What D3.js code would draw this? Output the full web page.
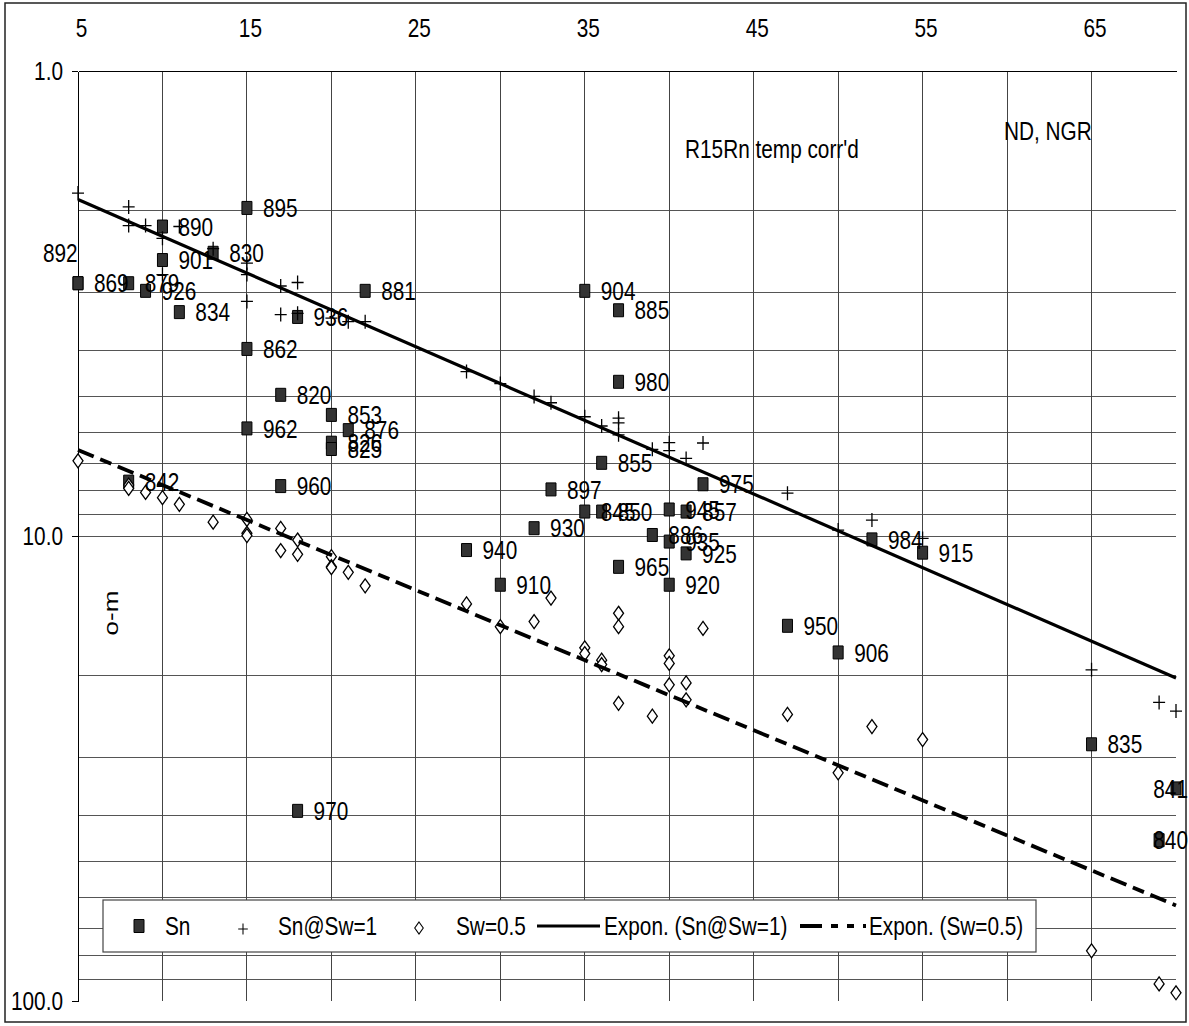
<!DOCTYPE html>
<html>
<head>
<meta charset="utf-8">
<script src="https://cdn.jsdelivr.net/npm/d3@7"></script>
<style>
  html, body { margin: 0; padding: 0; background: #fff; }
  svg { display: block; font-family: "Liberation Sans", Arial, sans-serif; }
</style>
</head>
<body>
<svg id="chart" width="1189" height="1026"></svg>
<script>
// Sn points (labelled squares)
const snX = [5, 5, 8, 9, 10, 10, 11, 13, 15, 15, 15, 17, 17, 18, 18, 20, 20, 20, 21, 22, 8,
    28, 30, 32, 33, 35, 35, 36, 36, 37, 37, 37, 39, 40, 40, 40, 41, 41, 42, 47, 50, 52, 55, 65, 69, 70];
const snY = [2.86, 2.86, 2.86, 2.97, 2.55, 2.16, 3.30, 2.46, 1.97, 3.96, 5.87, 4.97, 7.81, 3.38, 39.0, 5.49, 6.3, 6.5, 5.92, 2.97, 7.64,
    10.72, 12.73, 9.62, 7.94, 2.97, 8.86, 6.96, 8.86, 3.27, 4.66, 11.65, 9.95, 8.77, 10.28, 12.73, 8.86, 10.9, 7.74, 15.6, 17.8, 10.17, 10.86, 28.05, 45.1, 34.9];
const snLabel = ['892', '869', '879', '926', '901', '890', '834', '830', '895', '862', '962', '820', '960', '936', '970', '853', '826', '825', '876', '881', '842',
    '940', '910', '930', '897', '904', '845', '855', '850', '885', '980', '965', '886', '945', '935', '920', '857', '925', '975', '950', '906', '984', '915', '835', '840', '841'];

// Sn@Sw=1 (plus)
const sw1X = [5, 8, 8, 9, 10, 10, 11, 13, 15, 15, 15, 17, 17, 18, 18, 20, 21, 22, 28, 30, 32, 33, 35, 36, 37, 37, 37,
    39, 40, 40, 41, 42, 47, 50, 52, 55, 65, 69, 70];
const sw1Y = [1.83, 1.96, 2.15, 2.15, 2.29, 2.74, 2.16, 2.41, 2.59, 2.74, 3.13, 2.90, 3.34, 2.85, 3.32, 3.40, 3.46, 3.46, 4.43, 4.70, 5.01, 5.17, 5.54, 5.80, 5.58, 5.71, 6.06,
    6.51, 6.30, 6.55, 6.81, 6.31, 8.09, 9.71, 9.24, 10.12, 19.4, 22.8, 23.8];

// Sw=0.5 (diamond)
const sw05X = [5, 8, 8, 9, 10, 11, 13, 15, 15, 15, 17, 17, 18, 18, 20, 20, 20, 21, 22, 28, 30, 32, 33, 35, 35, 36, 36,
    37, 37, 37, 39, 40, 40, 40, 41, 41, 42, 47, 50, 52, 55, 65, 69, 70];
const sw05Y = [6.89, 7.77, 7.90, 8.06, 8.27, 8.55, 9.34, 9.21, 9.87, 9.98, 9.63, 10.75, 10.2, 10.95, 11.08, 11.64, 11.7, 11.97, 12.8, 14.0, 15.67, 15.28, 13.6, 17.4, 17.9, 18.5, 18.9,
    14.66, 15.67, 22.9, 24.4, 18.1, 18.8, 20.9, 20.7, 22.5, 15.8, 24.2, 32.3, 25.7, 27.4, 78.0, 91.9, 96.0];

// exponential trend lines, end values
const trendX = [5, 70];
const trendSw1 = [1.89, 20.2];
const trendSw05 = [6.53, 62.3];

const xTicks = [5, 15, 25, 35, 45, 55, 65];
const xGrid = [10, 15, 20, 25, 30, 35, 40, 45, 50, 55, 60, 65];
const yTicks = [1, 10, 100];
const yGrid = [2, 3, 4, 5, 6, 7, 8, 9, 10, 20, 30, 40, 50, 60, 70, 80, 90];
const seriesNames = ['Sn', 'Sn@Sw=1', 'Sw=0.5', 'Expon. (Sn@Sw=1)', 'Expon. (Sw=0.5)'];

const SX = 0.8;          // text in the original is narrow
const FS = 26;
const squeeze = `scale(${SX},1)`;

const svg = d3.select('#chart');

const x = d3.scaleLinear().domain([5, 70]).range([78, 1176]);
const y = d3.scaleLog().domain([1, 100]).range([71, 1001]);

// outer frame
svg.append('rect')
    .attr('x', 5).attr('y', 3).attr('width', 1181).attr('height', 1019)
    .attr('fill', '#fff').attr('stroke', '#222').attr('stroke-width', 1.5);

// grid
const grid = svg.append('g').attr('shape-rendering', 'crispEdges');
grid.selectAll('.hg').data(yGrid).enter().append('line')
    .attr('x1', x(5)).attr('x2', x(70))
    .attr('y1', d => y(d)).attr('y2', d => y(d))
    .attr('stroke', '#555');
grid.selectAll('.vg').data(xGrid).enter().append('line')
    .attr('x1', d => x(d)).attr('x2', d => x(d))
    .attr('y1', y(1)).attr('y2', y(100))
    .attr('stroke', '#444');

// axes
const xAxis = svg.append('g')
    .attr('transform', `translate(0,${y(1)})`)
    .call(d3.axisTop(x).tickValues(xTicks).tickSize(0).tickPadding(34));
xAxis.select('.domain').attr('stroke', '#000').attr('shape-rendering', 'crispEdges');
xAxis.selectAll('text')
    .attr('font-size', FS).attr('font-family', 'Liberation Sans, Arial, sans-serif')
    .attr('fill', '#000').attr('x', 3 / SX).attr('transform', squeeze);

const yAxis = svg.append('g')
    .attr('transform', `translate(${x(5)},0)`)
    .call(d3.axisLeft(y).tickValues(yTicks).tickFormat(d3.format('.1f')).tickSize(6).tickSizeOuter(0));
yAxis.select('.domain').attr('stroke', '#000').attr('shape-rendering', 'crispEdges');
yAxis.selectAll('line').attr('stroke', '#000');
yAxis.selectAll('text')
    .attr('font-size', FS).attr('font-family', 'Liberation Sans, Arial, sans-serif')
    .attr('fill', '#000').attr('x', -15 / SX).attr('transform', squeeze);

// markers
const squarePath = 'M-5,-6.5H5V6.5H-5Z';
const plusPath = 'M-6,0H6M0,-7V7';
const diamondPath = 'M0,-7L5,0L0,7L-5,0Z';

const snIdx = d3.range(snX.length);
svg.append('g').selectAll('path').data(snIdx).enter().append('path')
    .attr('d', squarePath)
    .attr('transform', i => `translate(${x(snX[i])},${y(snY[i])})`)
    .attr('fill', '#333').attr('stroke', '#000').attr('stroke-width', 1);

svg.append('g').selectAll('path').data(d3.range(sw1X.length)).enter().append('path')
    .attr('d', plusPath)
    .attr('transform', i => `translate(${x(sw1X[i])},${y(sw1Y[i])})`)
    .attr('fill', 'none').attr('stroke', '#000').attr('stroke-width', 1.3);

svg.append('g').selectAll('path').data(d3.range(sw05X.length)).enter().append('path')
    .attr('d', diamondPath)
    .attr('transform', i => `translate(${x(sw05X[i])},${y(sw05Y[i])})`)
    .attr('fill', '#fff').attr('stroke', '#000').attr('stroke-width', 1.3);

// trend lines
const line = d3.line().x(d => x(d[0])).y(d => y(d[1]));
svg.append('path')
    .datum(d3.zip(trendX, trendSw1))
    .attr('d', line)
    .attr('fill', 'none').attr('stroke', '#000').attr('stroke-width', 3.2);
svg.append('path')
    .datum(d3.zip(trendX, trendSw05))
    .attr('d', line)
    .attr('fill', 'none').attr('stroke', '#000').attr('stroke-width', 3.8)
    .attr('stroke-dasharray', '17,7,12,7');

// data labels, to the right of each square
const labelShift = { '892': [-35, -30] };
const labels = svg.append('g').selectAll('g').data(snIdx).enter().append('g');
labels.append('text')
    .attr('font-size', FS).attr('dy', '0.35em')
    .attr('transform', squeeze)
    .text(i => snLabel[i]);
labels.attr('transform', function (i) {
    const w = this.querySelector('text').getComputedTextLength() * SX;
    const s = labelShift[snLabel[i]] || [16, 0];
    let lx = x(snX[i]) + s[0];
    if (lx + w > 1188) lx = 1188 - w;
    return `translate(${lx},${y(snY[i]) + s[1]})`;
});

// notes
svg.append('text').attr('font-size', FS)
    .attr('transform', `translate(685,158) ${squeeze}`).text("R15Rn temp corr'd");
svg.append('text').attr('font-size', FS)
    .attr('transform', `translate(1004,140) ${squeeze}`).text('ND, NGR');
svg.append('text').attr('font-size', FS)
    .attr('text-anchor', 'middle').attr('dy', '0.26em')
    .attr('transform', `translate(113,613) ${squeeze} rotate(-90)`).text('o-m');

// legend
const lg = svg.append('g');
const ly = 926;
lg.append('rect')
    .attr('x', 103).attr('y', 900).attr('width', 933).attr('height', 52)
    .attr('fill', '#fff').attr('stroke', '#444').attr('stroke-width', 1.2);
lg.append('path').attr('d', squarePath).attr('transform', `translate(139,${ly})`)
    .attr('fill', '#333').attr('stroke', '#000');
lg.append('path').attr('d', plusPath).attr('transform', `translate(243,${ly + 3}) scale(0.8)`)
    .attr('fill', 'none').attr('stroke', '#000').attr('stroke-width', 1.3);
lg.append('path').attr('d', diamondPath).attr('transform', `translate(419,${ly + 2}) scale(0.85)`)
    .attr('fill', '#fff').attr('stroke', '#000').attr('stroke-width', 1.3);
lg.append('line').attr('x1', 537).attr('x2', 600).attr('y1', ly).attr('y2', ly)
    .attr('stroke', '#000').attr('stroke-width', 3.2);
lg.append('line').attr('x1', 800).attr('x2', 866).attr('y1', ly).attr('y2', ly)
    .attr('stroke', '#000').attr('stroke-width', 3.8).attr('stroke-dasharray', '22,9,7,9,7,9');

const legendTextX = [165, 278, 456, 604, 869];
lg.selectAll('.lt').data(seriesNames).enter().append('text')
    .attr('font-size', FS).attr('dy', '0.35em')
    .attr('transform', (d, i) => `translate(${legendTextX[i]},${ly}) ${squeeze}`)
    .text(d => d);
</script>
</body>
</html>
